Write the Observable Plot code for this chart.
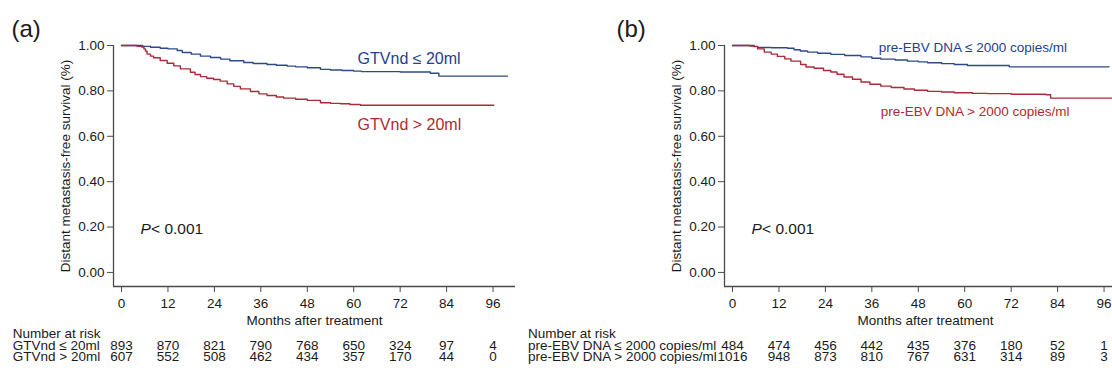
<!DOCTYPE html>
<html>
<head>
<meta charset="utf-8">
<script src="https://cdn.jsdelivr.net/npm/d3@7"></script>
<script src="https://cdn.jsdelivr.net/npm/@observablehq/plot@0.6"></script>
<style>
  html, body { margin: 0; padding: 0; background: #fff; overflow: hidden; }
  #page { position: relative; width: 1112px; height: 372px; overflow: hidden; background: #fff; }
  .panel { position: absolute; top: 0; width: 556px; height: 372px; }
  .panel svg { position: absolute; left: 0; top: 0; overflow: visible; max-width: none !important; }
</style>
</head>
<body>
<div id="page"></div>
<script>
// ---- data ----
const months = [0, 12, 24, 36, 48, 60, 72, 84, 96];
const yTicks = [0, 0.2, 0.4, 0.6, 0.8, 1.0];

const riskGtvLow  = [893, 870, 821, 790, 768, 650, 324, 97, 4];
const riskGtvHigh = [607, 552, 508, 462, 434, 357, 170, 44, 0];
const riskEbvLow  = [484, 474, 456, 442, 435, 376, 180, 52, 1];
const riskEbvHigh = [1016, 948, 873, 810, 767, 631, 314, 89, 3];

// Panel (a) Kaplan-Meier steps
const gtvLowTime = [0, 5.5, 7.5, 10, 12, 14.4, 15.7, 18, 20.4, 23, 25.6, 28, 31.6, 34, 37.6, 40, 42.8, 45, 48, 51.4, 54, 57, 60, 62, 72, 79.8, 82, 99.7];
const gtvLowSurv = [1.0, 0.996, 0.992, 0.988, 0.985, 0.978, 0.969, 0.962, 0.953, 0.947, 0.940, 0.933, 0.925, 0.921, 0.916, 0.913, 0.909, 0.906, 0.902, 0.895, 0.892, 0.890, 0.887, 0.885, 0.883, 0.878, 0.865, 0.865];
const gtvHighTime = [0, 4, 5.2, 5.8, 6.2, 6.6, 7.5, 8.3, 10, 11.8, 13.5, 15.2, 17.8, 19, 20.4, 22, 23.8, 25.5, 27.3, 29, 30.7, 33.3, 35.5, 37.6, 40, 41.9, 45, 48, 51.4, 54, 56.6, 59, 61.7, 96.2];
const gtvHighSurv = [1.0, 0.997, 0.993, 0.985, 0.975, 0.962, 0.953, 0.946, 0.934, 0.922, 0.910, 0.897, 0.882, 0.872, 0.863, 0.856, 0.850, 0.843, 0.831, 0.820, 0.809, 0.797, 0.787, 0.780, 0.773, 0.768, 0.763, 0.758, 0.748, 0.745, 0.743, 0.740, 0.737, 0.737];

// Panel (b) Kaplan-Meier steps
const ebvLowTime = [0, 5.6, 6.5, 10, 14.2, 15.9, 17.5, 19.4, 22, 25.4, 29, 33.2, 36, 38.3, 42, 45.2, 48, 50.4, 54, 57.3, 60.7, 71.5, 97.3];
const ebvLowSurv = [1.0, 0.996, 0.991, 0.990, 0.988, 0.981, 0.976, 0.971, 0.966, 0.961, 0.956, 0.950, 0.944, 0.940, 0.936, 0.931, 0.928, 0.924, 0.920, 0.916, 0.912, 0.906, 0.906];
const ebvHighTime = [0, 4.5, 5.6, 6.5, 8.2, 10, 11.6, 13.5, 15.1, 17.6, 19, 21.1, 23.5, 25.4, 27, 28.8, 31, 33.2, 35.5, 38.3, 41, 44.3, 47, 50.4, 54, 57.3, 62, 65.9, 72, 81, 82.2, 100];
const ebvHighSurv = [1.0, 0.998, 0.995, 0.985, 0.971, 0.962, 0.952, 0.941, 0.931, 0.916, 0.905, 0.900, 0.890, 0.883, 0.873, 0.861, 0.851, 0.839, 0.829, 0.821, 0.815, 0.808, 0.803, 0.798, 0.795, 0.792, 0.789, 0.788, 0.785, 0.783, 0.768, 0.768];

// ---- style ----
const FONT = "'Liberation Sans', Arial, Helvetica, sans-serif";
const TEXT = "#1a1a1a";
const AXIS = "#4a4a4a";
const BLUE_LINE = "#2c4a8a";
const RED_LINE = "#ab2b37";
const BLUE_TEXT = "#213f92";
const RED_TEXT = "#b02a30";
const xDomain = [-2.07, 101.8];
const yDomain = [-0.062, 1.0];
const baseStyle = {fontFamily: FONT, fontSize: "13.5px", background: "transparent", color: TEXT, overflow: "visible", maxWidth: "none"};

function toPoints(ts, ss) { return ts.map((t, i) => ({t, s: ss[i]})); }

function panel(cfg) {
  const low = toPoints(cfg.lowT, cfg.lowS);
  const high = toPoints(cfg.highT, cfg.highS);
  return Plot.plot({
    width: 556,
    height: 372,
    marginLeft: 113,
    marginRight: 41,
    marginTop: 45,
    marginBottom: 86,
    style: baseStyle,
    x: {type: "linear", domain: xDomain},
    y: {type: "linear", domain: yDomain},
    marks: [
      Plot.ruleX([xDomain[0]], {stroke: AXIS, strokeWidth: 1.3}),
      Plot.ruleY([yDomain[0]], {stroke: AXIS, strokeWidth: 1.3}),
      Plot.axisY({ticks: yTicks, tickFormat: d3.format(".2f"), tickSize: 6, tickPadding: 3, label: null, stroke: AXIS, fill: TEXT, fontSize: 13.5}),
      Plot.axisX({ticks: months, tickFormat: d => String(d), tickSize: 6, tickPadding: 6, label: null, stroke: AXIS, fill: TEXT, fontSize: 13.5}),
      Plot.text(["Distant metastasis-free survival (%)"], {text: d => d, frameAnchor: "left", rotate: -90, dx: -48, textAnchor: "middle", lineAnchor: "middle", fontSize: 13.5, fill: TEXT}),
      Plot.text(["Months after treatment"], {text: d => d, frameAnchor: "bottom", dy: 34, textAnchor: "middle", lineAnchor: "middle", fontSize: 13.5, fill: TEXT}),
      Plot.line(low, {x: "t", y: "s", curve: "step-after", stroke: BLUE_LINE, strokeWidth: 1.4}),
      Plot.line(high, {x: "t", y: "s", curve: "step-after", stroke: RED_LINE, strokeWidth: 1.4}),
      Plot.text([cfg.lowLabel], {text: d => d, x: cfg.lowPos[0], y: cfg.lowPos[1], textAnchor: "start", lineAnchor: "middle", fontSize: cfg.labelFont, fill: BLUE_TEXT}),
      Plot.text([cfg.highLabel], {text: d => d, x: cfg.highPos[0], y: cfg.highPos[1], textAnchor: "start", lineAnchor: "middle", fontSize: cfg.labelFont, fill: RED_TEXT}),
      Plot.text(["P"], {text: d => d, x: 4.9, y: 0.193, textAnchor: "start", lineAnchor: "middle", fontSize: 15.5, fontStyle: "italic", fill: TEXT}),
      Plot.text(["< 0.001"], {text: d => d, x: 4.9, y: 0.193, dx: 10.6, textAnchor: "start", lineAnchor: "middle", fontSize: 15.5, fill: TEXT}),
      Plot.text([cfg.letter], {text: d => d, frameAnchor: "top-left", dx: cfg.letterDx, dy: -16.5, textAnchor: "start", lineAnchor: "middle", fontSize: 24, fill: TEXT}),
      // number-at-risk table
      Plot.text(["Number at risk"], {text: d => d, frameAnchor: "bottom-left", dx: cfg.tableDx, dy: 47.5, textAnchor: "start", lineAnchor: "middle", fontSize: 13.5, fill: TEXT}),
      Plot.text([cfg.rowLow], {text: d => d, frameAnchor: "bottom-left", dx: cfg.tableDx, dy: 59.5, textAnchor: "start", lineAnchor: "middle", fontSize: 13.5, fill: TEXT}),
      Plot.text([cfg.rowHigh], {text: d => d, frameAnchor: "bottom-left", dx: cfg.tableDx, dy: 70.5, textAnchor: "start", lineAnchor: "middle", fontSize: 13.5, fill: TEXT}),
      Plot.text(months, {x: d => d, text: (d, i) => String(cfg.riskLow[i]), frameAnchor: "bottom", dy: 59.5, textAnchor: "middle", lineAnchor: "middle", fontSize: 13.5, fill: TEXT}),
      Plot.text(months, {x: d => d, text: (d, i) => String(cfg.riskHigh[i]), frameAnchor: "bottom", dy: 70.5, textAnchor: "middle", lineAnchor: "middle", fontSize: 13.5, fill: TEXT})
    ]
  });
}

const page = document.getElementById("page");

const cfgA = {
  letter: "(a)", letterDx: -102,
  lowLabel: "GTVnd \u2264 20ml", highLabel: "GTVnd > 20ml",
  lowPos: [61, 0.943], highPos: [61, 0.652], labelFont: 16,
  lowT: gtvLowTime, lowS: gtvLowSurv, highT: gtvHighTime, highS: gtvHighSurv,
  rowLow: "GTVnd \u2264 20ml", rowHigh: "GTVnd > 20ml",
  riskLow: riskGtvLow, riskHigh: riskGtvHigh, tableDx: -100.7
};
const cfgB = {
  letter: "(b)", letterDx: -108,
  lowLabel: "pre-EBV DNA \u2264 2000 copies/ml", highLabel: "pre-EBV DNA > 2000 copies/ml",
  lowPos: [37.8, 0.992], highPos: [38.3, 0.707], labelFont: 13.5,
  lowT: ebvLowTime, lowS: ebvLowSurv, highT: ebvHighTime, highS: ebvHighSurv,
  rowLow: "pre-EBV DNA \u2264 2000 copies/ml", rowHigh: "pre-EBV DNA > 2000 copies/ml",
  riskLow: riskEbvLow, riskHigh: riskEbvHigh, tableDx: -196.5
};

for (const [cfg, left] of [[cfgA, 0], [cfgB, 611]]) {
  const w = document.createElement("div");
  w.className = "panel";
  w.style.left = left + "px";
  w.appendChild(panel(cfg));
  page.appendChild(w);
}
</script>
</body>
</html>
